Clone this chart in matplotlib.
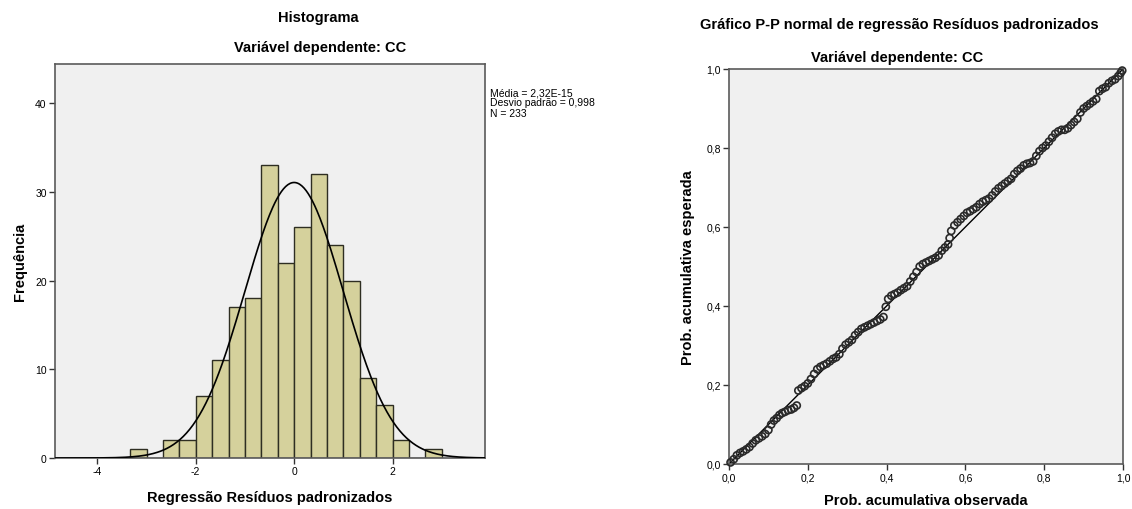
import numpy as np
import matplotlib.pyplot as plt

plt.rcParams['font.family'] = ['Liberation Sans', 'DejaVu Sans']
plt.rcParams['axes.unicode_minus'] = False

# histogram of standardized residuals (bin edges in units of 1/3)
bin_left = [-10/3, -3, -8/3, -7/3, -2, -5/3, -4/3, -1, -2/3, -1/3,
            0, 1/3, 2/3, 1, 4/3, 5/3, 2, 7/3, 8/3]
counts = [1, 0, 2, 2, 7, 11, 17, 18, 33, 22, 26, 32, 24, 20, 9, 6, 2, 0, 1]
bin_width = 1/3
media = 2.32e-15
desvio = 0.998
n_obs = 233

# P-P plot points (observed cumulative prob, expected cumulative prob)
pp_obs = [0.004, 0.012, 0.020, 0.028, 0.036, 0.044, 0.052, 0.060, 0.068, 0.076,
          0.084, 0.092, 0.100, 0.107, 0.114, 0.121, 0.128, 0.135, 0.142, 0.150,
          0.158, 0.165, 0.172, 0.176, 0.184, 0.192, 0.200, 0.208, 0.216, 0.224,
          0.232, 0.240, 0.248, 0.256, 0.264, 0.272, 0.280, 0.288, 0.296, 0.304,
          0.312, 0.320, 0.328, 0.336, 0.344, 0.352, 0.360, 0.368, 0.376, 0.384,
          0.392, 0.398, 0.404, 0.412, 0.420, 0.428, 0.436, 0.444, 0.452, 0.460,
          0.468, 0.476, 0.484, 0.492, 0.500, 0.508, 0.516, 0.524, 0.532, 0.540,
          0.548, 0.556, 0.560, 0.564, 0.572, 0.580, 0.588, 0.596, 0.604, 0.612,
          0.620, 0.628, 0.636, 0.644, 0.652, 0.660, 0.668, 0.676, 0.684, 0.692,
          0.700, 0.708, 0.716, 0.724, 0.732, 0.740, 0.748, 0.756, 0.764, 0.772,
          0.780, 0.788, 0.796, 0.804, 0.812, 0.820, 0.828, 0.836, 0.844, 0.852,
          0.860, 0.868, 0.876, 0.884, 0.892, 0.900, 0.908, 0.916, 0.924, 0.932,
          0.940, 0.948, 0.956, 0.964, 0.972, 0.980, 0.988, 0.994, 0.998]
pp_esp = [0.004, 0.012, 0.022, 0.028, 0.032, 0.037, 0.043, 0.052, 0.060, 0.065,
          0.070, 0.076, 0.086, 0.100, 0.110, 0.116, 0.124, 0.129, 0.132, 0.136,
          0.138, 0.142, 0.148, 0.186, 0.192, 0.197, 0.204, 0.215, 0.228, 0.240,
          0.246, 0.250, 0.254, 0.260, 0.266, 0.270, 0.278, 0.292, 0.302, 0.308,
          0.314, 0.326, 0.334, 0.342, 0.346, 0.350, 0.354, 0.358, 0.362, 0.366,
          0.372, 0.398, 0.418, 0.426, 0.430, 0.434, 0.440, 0.445, 0.450, 0.462,
          0.474, 0.486, 0.500, 0.506, 0.510, 0.514, 0.518, 0.522, 0.528, 0.540,
          0.548, 0.556, 0.572, 0.590, 0.604, 0.612, 0.620, 0.628, 0.636, 0.640,
          0.645, 0.650, 0.658, 0.664, 0.668, 0.672, 0.680, 0.690, 0.698, 0.704,
          0.710, 0.716, 0.722, 0.734, 0.742, 0.748, 0.756, 0.760, 0.762, 0.766,
          0.780, 0.792, 0.800, 0.806, 0.816, 0.826, 0.836, 0.842, 0.846, 0.846,
          0.850, 0.858, 0.866, 0.874, 0.890, 0.900, 0.906, 0.912, 0.918, 0.924,
          0.944, 0.950, 0.954, 0.964, 0.970, 0.974, 0.982, 0.990, 0.996]

bg = '#f0f0f0'
frame = '#5a5a5a'

fig = plt.figure(figsize=(11.32, 5.10), dpi=100)

# ---- histogram ----
ax1 = fig.add_axes([55/1132, 51/510, 430/1132, 394/510])
ax1.set_facecolor(bg)
ax1.bar(bin_left, counts, width=bin_width, align='edge', color='#d5d19c',
        edgecolor='#2e2e22', linewidth=1.0, zorder=2)
xs = np.linspace(-4.86, 3.88, 400)
curve = n_obs * bin_width * np.exp(-0.5 * ((xs - media) / desvio) ** 2) / (desvio * np.sqrt(2 * np.pi))
ax1.plot(xs, curve, color='black', linewidth=1.2, zorder=3)
ax1.set_xlim(-4.86, 3.88)
ax1.set_ylim(0, 44.4)
ax1.set_xticks([-4, -2, 0, 2])
ax1.set_yticks([0, 10, 20, 30, 40])
ax1.set_xlabel('Regressão Resíduos padronizados', fontsize=10.5, fontweight='bold', labelpad=10)
ax1.set_ylabel('Frequência', fontsize=10.5, fontweight='bold', labelpad=6)
fig.text(490/1132, 1 - 88/510, 'Média = 2,32E-15\nDesvio padrão = 0,998\nN = 233',
         fontsize=7.5, va='top', ha='left', linespacing=1.05)
fig.text(318/1132, 1 - 18/510, 'Histograma', fontsize=10.5, fontweight='bold', ha='center', va='center')
fig.text(320/1132, 1 - 48/510, 'Variável dependente: CC', fontsize=10.5, fontweight='bold',
         ha='center', va='center')

# ---- P-P plot ----
ax2 = fig.add_axes([729/1132, 45/510, 394/1132, 395/510])
ax2.set_facecolor(bg)
ax2.plot([0, 1], [0, 1], color='black', linewidth=1.0, zorder=2)
ax2.scatter(pp_obs, pp_esp, s=26, facecolors='none', edgecolors='#2a2a2a',
            linewidths=1.2, zorder=3, clip_on=False)
ax2.set_xlim(0, 1)
ax2.set_ylim(0, 1)
ticks = [0, 0.2, 0.4, 0.6, 0.8, 1.0]
tick_lab = ['0,0', '0,2', '0,4', '0,6', '0,8', '1,0']
ax2.set_xticks(ticks)
ax2.set_xticklabels(tick_lab)
ax2.set_yticks(ticks)
ax2.set_yticklabels(tick_lab)
ax2.set_xlabel('Prob. acumulativa observada', fontsize=10.5, fontweight='bold', labelpad=8)
ax2.set_ylabel('Prob. acumulativa esperada', fontsize=10.5, fontweight='bold', labelpad=8)
fig.text(899/1132, 1 - 25/510, 'Gráfico P-P normal de regressão Resíduos padronizados',
         fontsize=10.5, fontweight='bold', ha='center', va='center')
fig.text(897/1132, 1 - 58/510, 'Variável dependente: CC', fontsize=10.5, fontweight='bold',
         ha='center', va='center')

for ax in (ax1, ax2):
    for sp in ax.spines.values():
        sp.set_color(frame)
        sp.set_linewidth(1.2)
    ax.tick_params(direction='out', length=4, width=1.0, color='#333333',
                   labelsize=7.5, pad=2)

fig.savefig('out.png', dpi=100)
